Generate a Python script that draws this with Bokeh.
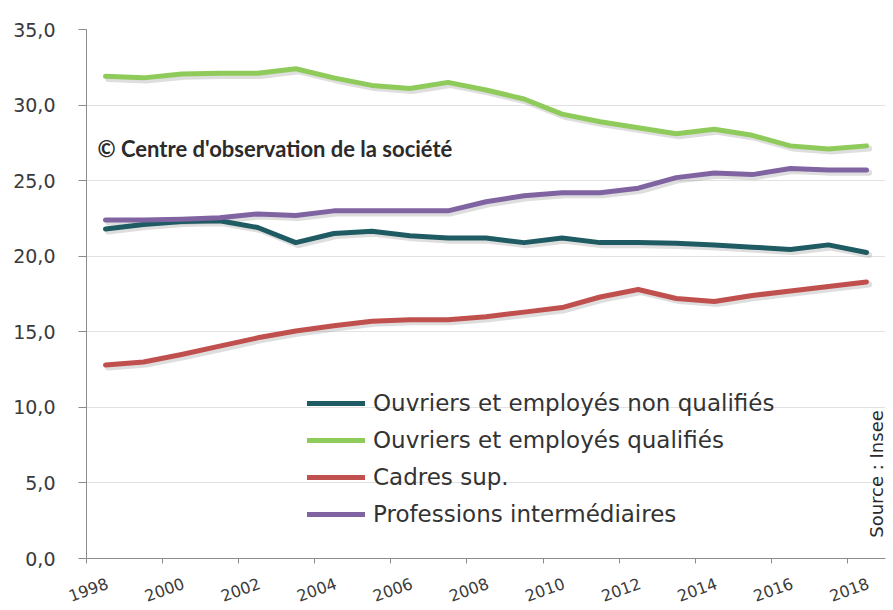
from bokeh.plotting import figure
from bokeh.models import (ColumnDataSource, Legend, LegendItem, Label, FixedTicker, Range1d,
                          LinearAxis)
from bokeh.transform import dodge
from bokeh.embed import file_html
from bokeh.resources import INLINE

# ---- data ----
years = list(range(1998, 2019))
non_qualifies = [21.8, 22.1, 22.3, 22.35, 21.9, 20.9, 21.5, 21.65, 21.35, 21.2, 21.2,
                 20.9, 21.2, 20.9, 20.9, 20.85, 20.75, 20.6, 20.45, 20.75, 20.25]
qualifies = [31.9, 31.8, 32.05, 32.1, 32.1, 32.4, 31.8, 31.3, 31.1, 31.5, 31.0,
             30.4, 29.4, 28.9, 28.5, 28.1, 28.4, 28.0, 27.3, 27.1, 27.3]
cadres = [12.8, 13.0, 13.5, 14.05, 14.6, 15.05, 15.4, 15.7, 15.8, 15.8, 16.0,
          16.3, 16.6, 17.3, 17.8, 17.2, 17.0, 17.4, 17.7, 18.0, 18.3]
intermediaires = [22.4, 22.4, 22.45, 22.55, 22.8, 22.7, 23.0, 23.0, 23.0, 23.0, 23.6,
                  24.0, 24.2, 24.2, 24.5, 25.2, 25.5, 25.4, 25.8, 25.7, 25.7]

series_keys = ["non_qualifies", "qualifies", "cadres", "intermediaires"]
series_names = ["Ouvriers et employés non qualifiés", "Ouvriers et employés qualifiés",
                "Cadres sup.", "Professions intermédiaires"]
series_colors = ["#1f5b63", "#8fcb5b", "#c0504d", "#8064a2"]

y_ticks = [0, 5, 10, 15, 20, 25, 30, 35]
y_tick_labels = ["0,0", "5,0", "10,0", "15,0", "20,0", "25,0", "30,0", "35,0"]
x_ticks = [1998, 2000, 2002, 2004, 2006, 2008, 2010, 2012, 2014, 2016, 2018]
x_tick_labels = [str(t) for t in x_ticks]

copyright_text = "© Centre d'observation de la société"
source_text = "Source : Insee"

source = ColumnDataSource(data=dict(year=years, non_qualifies=non_qualifies, qualifies=qualifies,
                                    cadres=cadres, intermediaires=intermediaires))

p = figure(width=893, height=610, output_backend="svg", toolbar_location=None,
           x_range=Range1d(1998, 2019), y_range=Range1d(0, 35),
           min_border_left=86, min_border_right=8, min_border_top=29, min_border_bottom=52)
p.outline_line_color = None
p.background_fill_color = "white"
p.border_fill_color = "white"

# grid
p.xgrid.visible = False
p.ygrid.ticker = FixedTicker(ticks=y_ticks)
p.ygrid.grid_line_color = "#e2e2e2"
p.ygrid.grid_line_width = 1

# axes
axis_font = "DejaVu Sans"
p.yaxis.ticker = FixedTicker(ticks=y_ticks)
p.yaxis.major_label_overrides = {t: l for t, l in zip(y_ticks, y_tick_labels)}
p.yaxis.axis_line_color = "#8c8c8c"
p.yaxis.major_tick_line_color = "#8c8c8c"
p.yaxis.major_tick_out = 8
p.yaxis.major_tick_in = 0
p.yaxis.minor_tick_line_color = None
p.yaxis.major_label_standoff = 23
p.yaxis.major_label_text_font = axis_font
p.yaxis.major_label_text_font_size = "19px"
p.yaxis.major_label_text_color = "#3a3a3a"

# x axis: line + tick marks at the years (its own labels are not drawn)
p.xaxis.ticker = FixedTicker(ticks=x_ticks)
p.xaxis.axis_line_color = "#8c8c8c"
p.xaxis.major_tick_line_color = "#8c8c8c"
p.xaxis.major_tick_out = 5
p.xaxis.major_tick_in = 0
p.xaxis.minor_tick_line_color = None
p.xaxis.major_label_text_color = None
p.xaxis.major_label_text_font_size = "1px"
p.xaxis.major_label_standoff = 0

# x axis labels: slanted, sitting under each tick mark (Excel style)
label_positions = [t + 0.55 for t in x_ticks]
label_axis = LinearAxis(ticker=FixedTicker(ticks=label_positions),
                        major_label_overrides={pos: l for pos, l in zip(label_positions, x_tick_labels)},
                        axis_line_color=None, major_tick_line_color=None,
                        minor_tick_line_color=None, major_tick_out=0, major_tick_in=0,
                        major_label_orientation=0.35, major_label_standoff=19,
                        major_label_text_font=axis_font, major_label_text_font_size="16px",
                        major_label_text_color="#3a3a3a")
p.add_layout(label_axis, "below")

# lines (with a soft shadow as in the reference)
for key in series_keys:
    p.line(x=dodge("year", 0.57), y=dodge(key, -0.17), source=source,
           line_color="#7a7a7a", line_alpha=0.25, line_width=6, line_cap="round", line_join="round")

items = []
for key, name, color in zip(series_keys, series_names, series_colors):
    r = p.line(x=dodge("year", 0.5), y=key, source=source, line_color=color,
               line_width=5, line_cap="round", line_join="round")
    items.append(LegendItem(label=name, renderers=[r]))

legend = Legend(items=items, location=(221, 31), orientation="vertical",
                background_fill_alpha=0, border_line_color=None,
                padding=0, margin=0, spacing=11,
                glyph_width=58, glyph_height=24, label_height=24, label_standoff=8,
                label_text_font="DejaVu Sans", label_text_font_size="23px",
                label_text_color="#333333")
p.add_layout(legend, "center")

# annotations
p.add_layout(Label(x=1998.29, y=27.1, text=copyright_text, text_font="Lato",
                   text_font_style="bold", text_font_size="22px", text_color="#2b2b2b",
                   text_baseline="middle", text_align="left"))
p.add_layout(Label(x=2018.5, y=1.37, text=source_text, angle=1.5708,
                   text_font="DejaVu Sans", text_font_size="18px", text_color="#2b2b2b",
                   text_baseline="top", text_align="left"))

open("out.html", "w").write(file_html(p, INLINE))
